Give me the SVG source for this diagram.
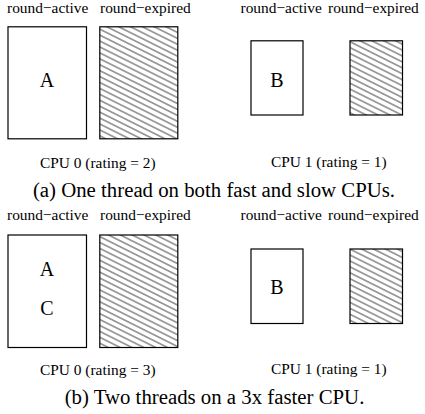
<svg xmlns="http://www.w3.org/2000/svg" width="425" height="414" viewBox="0 0 425 414">
<style>
text{font-family:"Liberation Serif","Times New Roman",serif;fill:#000}
.lbl{font-size:15.4px}
.big{font-size:20px;text-anchor:middle}
.cap{font-size:20.8px;text-anchor:middle}
.box{fill:#fff;stroke:#000;stroke-width:1.2}
.hatch{fill:url(#h);stroke:#000;stroke-width:1.2}
</style>
<defs>
<pattern id="h" patternUnits="userSpaceOnUse" width="10" height="5.3" patternTransform="rotate(26.57)">
<line x1="0" y1="2.65" x2="10" y2="2.65" stroke="#111" stroke-width="0.8"/>
</pattern>
</defs>
<g id="panel-a">
<g id="a-cpu0">
<text class="lbl" x="7" y="13">round−active</text>
<text class="lbl" x="100" y="13">round−expired</text>
<g id="a-cpu0-active"><rect class="box" x="8" y="26.8" width="78.5" height="112"/><text class="big" x="47" y="87">A</text></g>
<g id="a-cpu0-expired"><rect class="hatch" x="99.8" y="26.8" width="78" height="112"/></g>
<text class="lbl" x="40" y="167.5">CPU 0 (rating = 2)</text>
</g>
<g id="a-cpu1">
<text class="lbl" x="240.5" y="13">round−active</text>
<text class="lbl" x="328" y="13">round−expired</text>
<g id="a-cpu1-active"><rect class="box" x="251" y="40.8" width="52" height="74.2"/><text class="big" x="277" y="87">B</text></g>
<g id="a-cpu1-expired"><rect class="hatch" x="350" y="40.8" width="52.5" height="74.2"/></g>
<text class="lbl" x="271" y="167">CPU 1 (rating = 1)</text>
</g>
<text class="cap" x="214" y="197">(a) One thread on both fast and slow CPUs.</text>
</g>
<g id="panel-b">
<g id="b-cpu0">
<text class="lbl" x="7" y="220">round−active</text>
<text class="lbl" x="100" y="220">round−expired</text>
<g id="b-cpu0-active"><rect class="box" x="8" y="235" width="78.5" height="112.5"/><text class="big" x="47" y="276">A</text><text class="big" x="47" y="315">C</text></g>
<g id="b-cpu0-expired"><rect class="hatch" x="99.8" y="235" width="78" height="112.5"/></g>
<text class="lbl" x="40" y="374.7">CPU 0 (rating = 3)</text>
</g>
<g id="b-cpu1">
<text class="lbl" x="240.5" y="220">round−active</text>
<text class="lbl" x="328" y="220">round−expired</text>
<g id="b-cpu1-active"><rect class="box" x="251" y="249" width="52" height="74.5"/><text class="big" x="277" y="294">B</text></g>
<g id="b-cpu1-expired"><rect class="hatch" x="350" y="249" width="52.5" height="74.5"/></g>
<text class="lbl" x="271" y="374.2">CPU 1 (rating = 1)</text>
</g>
<text class="cap" x="214.5" y="404">(b) Two threads on a 3x faster CPU.</text>
</g>
<g id="connectors"/>
</svg>
